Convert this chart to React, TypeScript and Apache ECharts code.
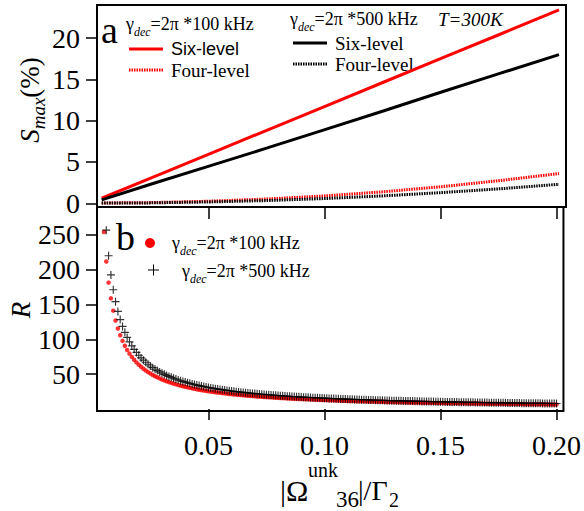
import React, { useEffect, useRef } from 'react';
import * as echarts from 'echarts';

const SERIF = 'Liberation Serif';
const SANS = 'Liberation Sans';

// Panel (a): maximum squeezing S_max (%) against |Ω36|/Γ2
const omegaA = [0.004, 0.025, 0.05, 0.075, 0.1, 0.125, 0.15, 0.175, 0.2];
const sixLevel100 = [0.61, 3.05, 5.96, 8.86, 11.77, 14.68, 17.59, 20.49, 23.4];
const fourLevel100 = [0.03, 0.08, 0.25, 0.52, 0.9, 1.4, 2.02, 2.76, 3.6];
const sixLevel500 = [0.42, 2.3, 4.5, 6.7, 8.95, 11.2, 13.5, 15.75, 18.0];
const fourLevel500 = [0.02, 0.05, 0.16, 0.33, 0.58, 0.9, 1.3, 1.76, 2.3];

// Panel (b): ratio R against |Ω36|/Γ2
const omegaB = [
  0.005, 0.006, 0.007, 0.008, 0.009,
  0.010, 0.011, 0.012, 0.013, 0.014, 0.015, 0.016, 0.017, 0.018, 0.019,
  0.020, 0.021, 0.022, 0.023, 0.024, 0.025, 0.026, 0.027, 0.028, 0.029,
  0.030, 0.031, 0.032, 0.033, 0.034, 0.035, 0.036, 0.037, 0.038, 0.039,
  0.040, 0.041, 0.042, 0.043, 0.044, 0.045, 0.046, 0.047, 0.048, 0.049,
  0.050, 0.051, 0.052, 0.053, 0.054, 0.055, 0.056, 0.057, 0.058, 0.059,
  0.060, 0.061, 0.062, 0.063, 0.064, 0.065, 0.066, 0.067, 0.068, 0.069,
  0.070, 0.071, 0.072, 0.073, 0.074, 0.075, 0.076, 0.077, 0.078, 0.079,
  0.080, 0.081, 0.082, 0.083, 0.084, 0.085, 0.086, 0.087, 0.088, 0.089,
  0.090, 0.091, 0.092, 0.093, 0.094, 0.095, 0.096, 0.097, 0.098, 0.099,
  0.100, 0.101, 0.102, 0.103, 0.104, 0.105, 0.106, 0.107, 0.108, 0.109,
  0.110, 0.111, 0.112, 0.113, 0.114, 0.115, 0.116, 0.117, 0.118, 0.119,
  0.120, 0.121, 0.122, 0.123, 0.124, 0.125, 0.126, 0.127, 0.128, 0.129,
  0.130, 0.131, 0.132, 0.133, 0.134, 0.135, 0.136, 0.137, 0.138, 0.139,
  0.140, 0.141, 0.142, 0.143, 0.144, 0.145, 0.146, 0.147, 0.148, 0.149,
  0.150, 0.151, 0.152, 0.153, 0.154, 0.155, 0.156, 0.157, 0.158, 0.159,
  0.160, 0.161, 0.162, 0.163, 0.164, 0.165, 0.166, 0.167, 0.168, 0.169,
  0.170, 0.171, 0.172, 0.173, 0.174, 0.175, 0.176, 0.177, 0.178, 0.179,
  0.180, 0.181, 0.182, 0.183, 0.184, 0.185, 0.186, 0.187, 0.188, 0.189,
  0.190, 0.191, 0.192, 0.193, 0.194, 0.195, 0.196, 0.197, 0.198, 0.199,
  0.200,
];

const ratio100 = [
  254, 211.7, 181.4, 158.8, 141.1,
  127, 115.5, 105.8, 97.7, 90.7, 84.7, 79.4, 74.7, 70.6, 66.8,
  63.5, 60.5, 57.7, 55.2, 52.9, 50.8, 48.8, 47.0, 45.4, 43.8,
  42.3, 41.0, 39.7, 38.5, 37.4, 36.3, 35.3, 34.3, 33.4, 32.6,
  31.8, 31.0, 30.2, 29.5, 28.9, 28.2, 27.6, 27.0, 26.5, 25.9,
  25.4, 24.9, 24.4, 24.0, 23.5, 23.1, 22.7, 22.3, 21.9, 21.5,
  21.2, 20.8, 20.5, 20.2, 19.8, 19.5, 19.2, 19.0, 18.7, 18.4,
  18.1, 17.9, 17.6, 17.4, 17.2, 16.9, 16.7, 16.5, 16.3, 16.1,
  15.9, 15.7, 15.5, 15.3, 15.1, 14.9, 14.8, 14.6, 14.4, 14.3,
  14.1, 14.0, 13.8, 13.7, 13.5, 13.4, 13.2, 13.1, 13.0, 12.8,
  12.7, 12.6, 12.5, 12.3, 12.2, 12.1, 12.0, 11.9, 11.8, 11.7,
  11.5, 11.4, 11.3, 11.2, 11.1, 11.0, 10.9, 10.9, 10.8, 10.7,
  10.6, 10.5, 10.4, 10.3, 10.2, 10.2, 10.1, 10.0, 9.9, 9.8,
  9.8, 9.7, 9.6, 9.5, 9.5, 9.4, 9.3, 9.3, 9.2, 9.1,
  9.1, 9.0, 8.9, 8.9, 8.8, 8.8, 8.7, 8.6, 8.6, 8.5,
  8.5, 8.4, 8.4, 8.3, 8.2, 8.2, 8.1, 8.1, 8.0, 8.0,
  7.9, 7.9, 7.8, 7.8, 7.7, 7.7, 7.7, 7.6, 7.6, 7.5,
  7.5, 7.4, 7.4, 7.3, 7.3, 7.3, 7.2, 7.2, 7.1, 7.1,
  7.1, 7.0, 7.0, 6.9, 6.9, 6.9, 6.8, 6.8, 6.8, 6.7,
  6.7, 6.6, 6.6, 6.6, 6.5, 6.5, 6.5, 6.4, 6.4, 6.4,
  6.4,
];

const ratio500 = [
  308, 256.7, 220, 192.5, 171.1,
  154, 140, 128.3, 118.5, 110, 102.7, 96.3, 90.6, 85.6, 81.1,
  77, 73.3, 70, 67, 64.2, 61.6, 59.2, 57.0, 55, 53.1,
  51.3, 49.7, 48.1, 46.7, 45.3, 44, 42.8, 41.6, 40.5, 39.5,
  38.5, 37.6, 36.7, 35.8, 35, 34.2, 33.5, 32.8, 32.1, 31.4,
  30.8, 30.2, 29.6, 29.1, 28.5, 28, 27.5, 27.0, 26.6, 26.1,
  25.7, 25.2, 24.8, 24.4, 24.1, 23.7, 23.3, 23.0, 22.6, 22.3,
  22, 21.7, 21.4, 21.1, 20.8, 20.5, 20.3, 20, 19.7, 19.5,
  19.3, 19.0, 18.8, 18.6, 18.3, 18.1, 17.9, 17.7, 17.5, 17.3,
  17.1, 16.9, 16.7, 16.6, 16.4, 16.2, 16.0, 15.9, 15.7, 15.6,
  15.4, 15.2, 15.1, 15.0, 14.8, 14.7, 14.5, 14.4, 14.3, 14.1,
  14.0, 13.9, 13.8, 13.6, 13.5, 13.4, 13.3, 13.2, 13.1, 12.9,
  12.8, 12.7, 12.6, 12.5, 12.4, 12.3, 12.2, 12.1, 12.0, 11.9,
  11.8, 11.8, 11.7, 11.6, 11.5, 11.4, 11.3, 11.2, 11.2, 11.1,
  11.0, 10.9, 10.8, 10.8, 10.7, 10.6, 10.5, 10.5, 10.4, 10.3,
  10.3, 10.2, 10.1, 10.1, 10.0, 9.9, 9.9, 9.8, 9.7, 9.7,
  9.6, 9.6, 9.5, 9.4, 9.4, 9.3, 9.3, 9.2, 9.2, 9.1,
  9.1, 9.0, 9.0, 8.9, 8.9, 8.8, 8.8, 8.7, 8.7, 8.6,
  8.6, 8.5, 8.5, 8.4, 8.4, 8.3, 8.3, 8.2, 8.2, 8.1,
  8.1, 8.1, 8.0, 8.0, 7.9, 7.9, 7.9, 7.8, 7.8, 7.7,
  7.7,
];

const sTicks = [0, 5, 10, 15, 20];
const rTicks = [50, 100, 150, 200, 250];
const omegaTicks = [0.05, 0.1, 0.15, 0.2];

const RED = '#ff0000';
const BLACK = '#000000';
const PLUS = 'path://M3,0h1v3h3v1h-3v3h-1v-3h-3v-1h3z';
const DOTS = [1.5, 1];

const pairs = (xs: number[], ys: number[]) => xs.map((x, i) => [x, ys[i]]);

const gammaRich = {
  n: { fontFamily: SERIF, fontSize: 18, lineHeight: 28, color: BLACK },
  s: { fontFamily: SERIF, fontSize: 12, fontStyle: 'italic', verticalAlign: 'bottom', color: BLACK },
};

function txt(x: number, y: number, text: string, size: number, extra: any = {}) {
  const { style, ...rest } = extra;
  return {
    type: 'text',
    x,
    y,
    z: 1,
    ...rest,
    style: {
      text,
      fontFamily: SERIF,
      fontSize: size,
      fill: BLACK,
      align: 'left',
      verticalAlign: 'middle',
      ...(style || {}),
    },
  };
}

function legendLine(x1: number, x2: number, y: number, color: string, dotted: boolean) {
  return {
    type: 'line',
    z: 3,
    shape: { x1, y1: y, x2, y2: y },
    style: { stroke: color, lineWidth: 3, lineDash: dotted ? DOTS : null },
  };
}

export default function App() {
  const ref = useRef<HTMLDivElement>(null);

  useEffect(() => {
    document.body.style.margin = '0';
    if (!ref.current) return;
    const chart = echarts.init(ref.current, undefined, { renderer: 'svg' });

    const tickStyle = { color: BLACK, width: 1.5 };
    const labelBase = { color: BLACK, fontFamily: SERIF };

    const option: any = {
      animation: false,
      grid: [
        { left: 97, top: 5, width: 469, height: 202, show: true, borderColor: BLACK, borderWidth: 2 },
        { left: 97, top: 207, width: 469, height: 204, show: true, borderColor: BLACK, borderWidth: 2 },
      ],
      xAxis: [
        {
          type: 'value', gridIndex: 0, min: 0.002, max: 0.203,
          axisLine: { show: false }, axisTick: { show: false }, axisLabel: { show: false }, splitLine: { show: false },
        },
        {
          type: 'value', gridIndex: 1, min: 0.002, max: 0.203, position: 'bottom',
          axisLine: { show: false },
          axisTick: { show: true, inside: false, length: 11, lineStyle: tickStyle, customValues: omegaTicks },
          axisLabel: { ...labelBase, fontSize: 28, margin: 20, customValues: omegaTicks, formatter: (v: number) => v.toFixed(2) },
          splitLine: { show: false },
        },
        {
          type: 'value', gridIndex: 1, min: 0.002, max: 0.203, position: 'top',
          axisLine: { show: false },
          axisTick: { show: true, inside: true, length: 12, lineStyle: tickStyle, customValues: omegaTicks },
          axisLabel: { show: false }, splitLine: { show: false },
        },
      ],
      yAxis: [
        {
          type: 'value', gridIndex: 0, min: -0.45, max: 24,
          axisLine: { show: false },
          axisTick: { show: true, inside: false, length: 11, lineStyle: tickStyle, customValues: sTicks },
          axisLabel: { ...labelBase, fontSize: 28, margin: 17, customValues: sTicks },
          splitLine: { show: false },
        },
        {
          type: 'value', gridIndex: 1, min: -3, max: 290,
          axisLine: { show: false },
          axisTick: { show: true, inside: false, length: 11, lineStyle: tickStyle, customValues: rTicks },
          axisLabel: { ...labelBase, fontSize: 28, margin: 17, customValues: rTicks },
          splitLine: { show: false },
        },
      ],
      series: [
        {
          name: 'Six-level 100', type: 'line', xAxisIndex: 0, yAxisIndex: 0, showSymbol: false,
          data: pairs(omegaA, sixLevel100), lineStyle: { color: RED, width: 3 },
        },
        {
          name: 'Four-level 100', type: 'line', xAxisIndex: 0, yAxisIndex: 0, showSymbol: false,
          data: pairs(omegaA, fourLevel100), lineStyle: { color: RED, width: 3, type: DOTS },
        },
        {
          name: 'Six-level 500', type: 'line', xAxisIndex: 0, yAxisIndex: 0, showSymbol: false,
          data: pairs(omegaA, sixLevel500), lineStyle: { color: BLACK, width: 3 },
        },
        {
          name: 'Four-level 500', type: 'line', xAxisIndex: 0, yAxisIndex: 0, showSymbol: false,
          data: pairs(omegaA, fourLevel500), lineStyle: { color: BLACK, width: 3, type: DOTS },
        },
        {
          name: 'R 100', type: 'scatter', xAxisIndex: 1, yAxisIndex: 1, clip: true,
          symbol: 'circle', symbolSize: 4.5, itemStyle: { color: RED },
          data: pairs(omegaB, ratio100),
        },
        {
          name: 'R 500', type: 'scatter', xAxisIndex: 1, yAxisIndex: 1, clip: true,
          symbol: PLUS, symbolSize: 8, itemStyle: { color: BLACK },
          data: pairs(omegaB, ratio500),
        },
      ],
      graphic: [
        // panel labels
        txt(101, 30, 'a', 38),
        txt(116, 237, 'b', 38),
        // panel (a) legend
        txt(126, 24, '{n|γ}{s|dec}{n|=2π *100 kHz}', 18, { style: { rich: gammaRich } }),
        legendLine(129, 163, 49, RED, false),
        txt(171, 49, 'Six-level', 18, { style: { fontFamily: SANS } }),
        legendLine(129, 163, 70, RED, true),
        txt(171, 70, 'Four-level', 19),
        txt(290, 19, '{n|γ}{s|dec}{n|=2π *500 kHz}', 18, { style: { rich: gammaRich } }),
        txt(438, 19, 'T=300K', 19, { style: { fontStyle: 'italic' } }),
        legendLine(293, 327, 43, BLACK, false),
        txt(335, 43, 'Six-level', 19),
        legendLine(293, 327, 64, BLACK, true),
        txt(335, 64, 'Four-level', 19),
        // panel (b) legend
        { type: 'circle', z: 3, shape: { cx: 150, cy: 243, r: 5 }, style: { fill: RED } },
        txt(172, 243, '{n|γ}{s|dec}{n|=2π *100 kHz}', 18, { style: { rich: gammaRich } }),
        { type: 'line', z: 3, shape: { x1: 148, y1: 270, x2: 159, y2: 270 }, style: { stroke: BLACK, lineWidth: 1 } },
        { type: 'line', z: 3, shape: { x1: 153.5, y1: 264.5, x2: 153.5, y2: 275.5 }, style: { stroke: BLACK, lineWidth: 1 } },
        txt(182, 271, '{n|γ}{s|dec}{n|=2π *500 kHz}', 18, { style: { rich: gammaRich } }),
        // axis titles
        {
          type: 'text', x: 30, y: 100, rotation: Math.PI / 2, z: 1,
          style: {
            text: '{i|S}{m|max}{p|(%)}',
            align: 'center', verticalAlign: 'middle', fill: BLACK,
            rich: {
              i: { fontFamily: SERIF, fontSize: 27, fontStyle: 'italic', lineHeight: 36, color: BLACK },
              m: { fontFamily: SERIF, fontSize: 19, fontStyle: 'italic', verticalAlign: 'bottom', color: BLACK },
              p: { fontFamily: SERIF, fontSize: 27, lineHeight: 36, color: BLACK },
            },
          },
        },
        {
          type: 'text', x: 21, y: 310, rotation: Math.PI / 2, z: 1,
          style: { text: 'R', fontFamily: SERIF, fontSize: 27, fontStyle: 'italic', align: 'center', verticalAlign: 'middle', fill: BLACK },
        },
        txt(280, 490, '|Ω', 30),
        txt(308, 470, 'unk', 20),
        txt(336, 499, '36', 23),
        txt(358, 490, '|/Γ', 28),
        txt(389, 500, '2', 20),
      ],
    };

    chart.setOption(option);
    return () => chart.dispose();
  }, []);

  return <div ref={ref} style={{ width: 584, height: 511 }} />;
}
